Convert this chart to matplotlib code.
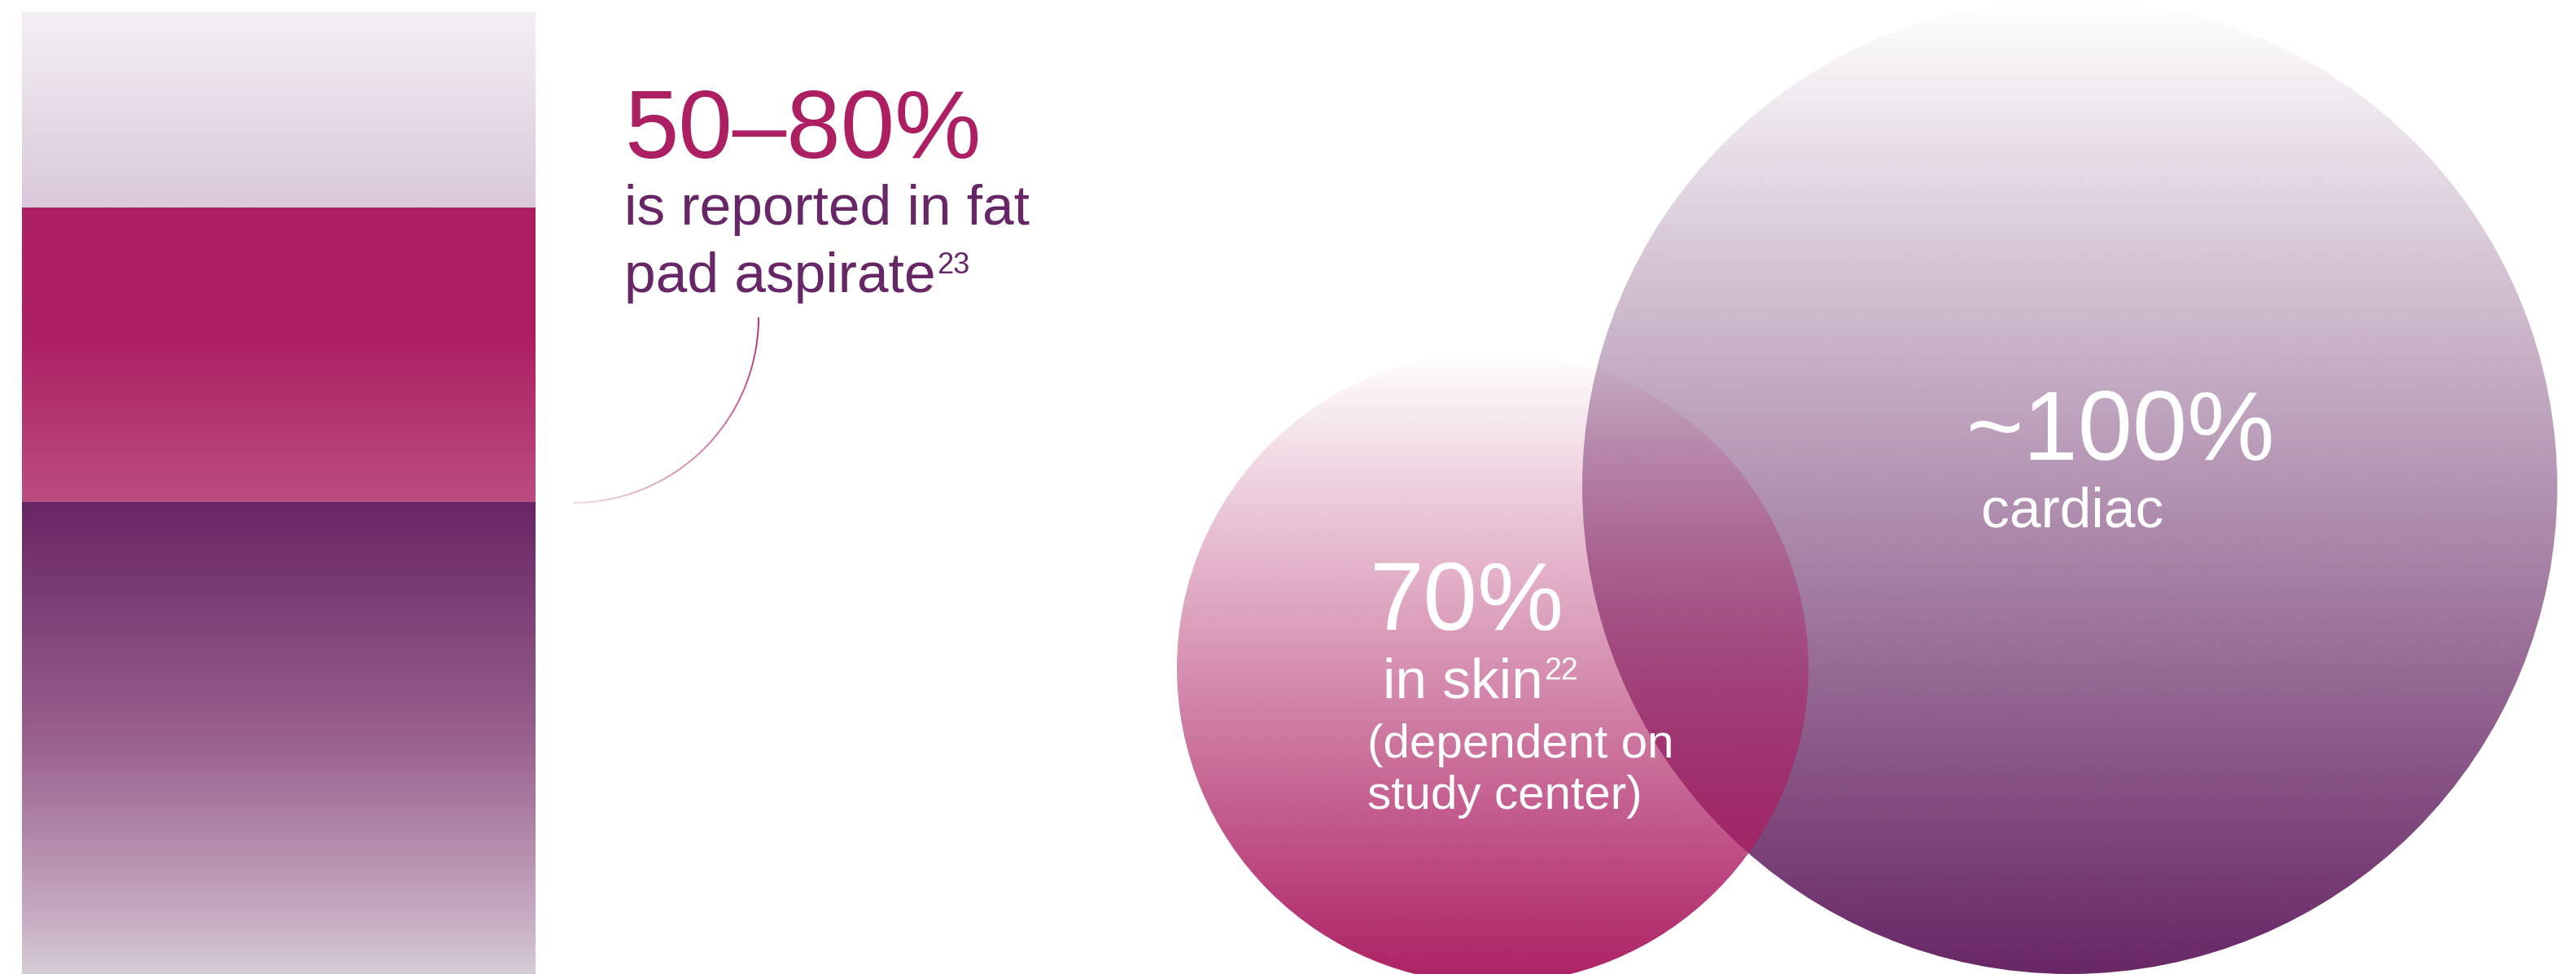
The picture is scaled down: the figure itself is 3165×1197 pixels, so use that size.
import numpy as np
import matplotlib.pyplot as plt
from matplotlib.patches import Circle
from matplotlib.collections import LineCollection
from matplotlib.colors import to_rgb

W, H = 3165, 1197
PURPLE = '#672665'
MAGENTA = '#AD1F63'
FONT = ['Liberation Sans', 'DejaVu Sans']

# --- data ---
bar_bounds = [0, 50, 80, 100]          # stacked bar on a 0-100 % scale
# colour ramps inside each segment: (position from bottom, colours)
bar_ramps = [
    ([0.0, 0.17, 0.5, 1.0], ['#DAD6DC', '#C5A8C0', '#9B6390', PURPLE]),
    ([0.0, 0.57, 1.0], ['#BB4D80', MAGENTA, MAGENTA]),
    ([0.0, 1.0], ['#D9C8DA', '#F5F0F5']),
]

fat_pad_value = '50–80%'
fat_pad_lines = ['is reported in fat', 'pad aspirate']
fat_pad_ref = '23'

circle_names = ['skin', 'cardiac']
circle_values = ['70%', '~100%']
circle_colors = [MAGENTA, PURPLE]
skin_lines = ['in skin', '(dependent on', 'study center)']
skin_ref = '22'
cardiac_line = 'cardiac'

# --- layout (pixels) ---
circle_centers = [(1834, 821), (2543, 598)]
circle_radii = [388, 599]
bar_left, bar_right, bar_top, bar_zero = 27, 658, 14, 1220


def color_ramp(pos, colors, n=600):
    # rows go bottom -> top
    t = np.linspace(0, 1, n)
    rgb = np.array([to_rgb(c) for c in colors])
    img = np.ones((n, 1, 4))
    for ch in range(3):
        img[:, 0, ch] = np.interp(t, pos, rgb[:, ch])
    return img


def alpha_ramp(color, pos, alpha, n=600):
    t = np.linspace(0, 1, n)
    img = np.zeros((n, 1, 4))
    img[..., :3] = to_rgb(color)
    img[:, 0, 3] = np.interp(t, pos, alpha)
    return img


fig = plt.figure(figsize=(W / 100, H / 100), dpi=100)
fig.patch.set_facecolor('white')

# stacked gradient bar (0 sits just below the figure edge)
bax = fig.add_axes([bar_left / W, (H - bar_zero) / H,
                    (bar_right - bar_left) / W, (bar_zero - bar_top) / H])
for i, (pos, cols) in enumerate(bar_ramps):
    lo, hi = bar_bounds[i], bar_bounds[i + 1]
    bax.imshow(color_ramp(pos, cols), extent=(0, 1, lo, hi), origin='lower',
               aspect='auto', interpolation='bilinear')
bax.set_xlim(0, 1)
bax.set_ylim(0, 100)
bax.axis('off')

# everything else in pixel space
ax = fig.add_axes([0, 0, 1, 1])
for k, (c, (cx, cy), r) in enumerate(zip(circle_colors, circle_centers, circle_radii)):
    im = ax.imshow(alpha_ramp(c, [0, 1], [1, 0]), extent=(cx - r, cx + r, cy + r, cy - r),
                   origin='lower', aspect='auto', interpolation='bilinear', zorder=2 - k)
    clip = Circle((cx, cy), r, fc='none', ec='none', transform=ax.transData)
    ax.add_patch(clip)
    im.set_clip_path(clip)

# connector arc
acx, acy, ar = 704, 390, 228
th = np.linspace(0, np.pi / 2, 200)
pts = np.column_stack([acx + ar * np.cos(th), acy + ar * np.sin(th)]).reshape(-1, 1, 2)
segs = np.concatenate([pts[:-1], pts[1:]], axis=1)
cols = np.zeros((len(segs), 4))
cols[:, :3] = to_rgb(MAGENTA)
cols[:, 3] = np.linspace(1.0, 0.15, len(segs))
ax.add_collection(LineCollection(segs, colors=cols, linewidths=1.4, zorder=3))

ax.set_xlim(0, W)
ax.set_ylim(H, 0)
ax.axis('off')

# fat pad text
ax.text(767, 194, fat_pad_value, color=MAGENTA, fontsize=86, family=FONT, va='baseline', zorder=5)
ax.text(767, 276, fat_pad_lines[0], color=PURPLE, fontsize=50, family=FONT, va='baseline', zorder=5)
t = ax.text(767, 359, fat_pad_lines[1], color=PURPLE, fontsize=50, family=FONT, va='baseline', zorder=5)
ax.annotate(fat_pad_ref, xy=(1, 1), xycoords=t, xytext=(1, 0), textcoords='offset points',
            color=PURPLE, fontsize=26, family=FONT, va='top', ha='left', zorder=5)

# skin circle text
ax.text(1683, 774, circle_values[0], color='white', fontsize=86, family=FONT, va='baseline', zorder=5)
t = ax.text(1699, 857, skin_lines[0], color='white', fontsize=50, family=FONT, va='baseline', zorder=5)
ax.annotate(skin_ref, xy=(1, 1), xycoords=t, xytext=(1, 0), textcoords='offset points',
            color='white', fontsize=27, family=FONT, va='top', ha='left', zorder=5)
ax.text(1680, 931, skin_lines[1], color='white', fontsize=42, family=FONT, va='baseline', zorder=5)
ax.text(1680, 994, skin_lines[2], color='white', fontsize=42, family=FONT, va='baseline', zorder=5)

# cardiac circle text
ax.text(2416, 565, circle_values[1], color='white', fontsize=87, family=FONT, va='baseline', zorder=5)
ax.text(2434, 647, cardiac_line, color='white', fontsize=50, family=FONT, va='baseline', zorder=5)

fig.savefig('out.png', dpi=100, facecolor='white')
